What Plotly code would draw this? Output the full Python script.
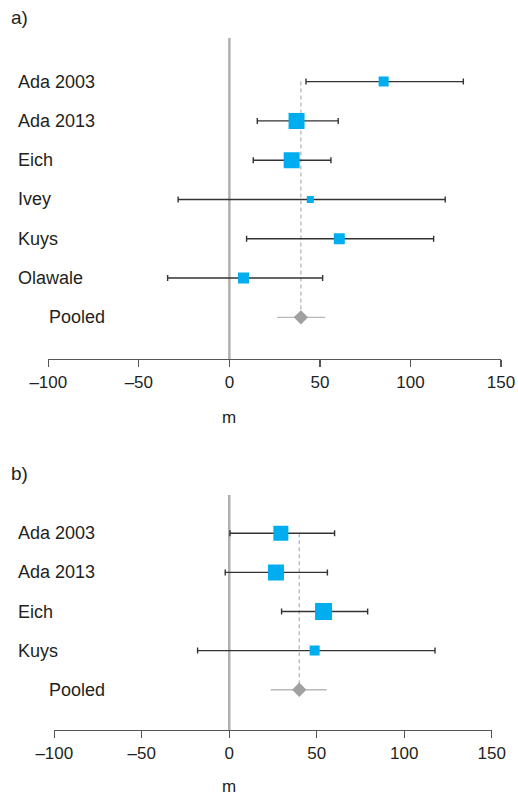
import plotly.graph_objects as go

W, H = 518, 798

# ---- data, panel a ----
a_studies = ["Ada 2003", "Ada 2013", "Eich", "Ivey", "Kuys", "Olawale"]
a_est = [85.2, 37.1, 34.4, 44.7, 60.7, 7.8]
a_low = [42.3, 15.4, 13.2, -28.3, 9.5, -34.1]
a_high = [129.2, 60.1, 56.1, 119.2, 112.8, 51.5]
a_weight = [10, 16, 16, 7, 11, 11]
a_pooled = 39.5
a_pooled_low = 26.4
a_pooled_high = 52.9

# ---- data, panel b ----
b_studies = ["Ada 2003", "Ada 2013", "Eich", "Kuys"]
b_est = [29.5, 26.7, 53.9, 48.8]
b_low = [0.4, -2.3, 29.9, -18.1]
b_high = [60.2, 56.1, 79.1, 117.6]
b_weight = [15, 16, 17, 10]
b_pooled = 40.0
b_pooled_low = 23.6
b_pooled_high = 55.6

tick_vals = [-100, -50, 0, 50, 100, 150]
tick_text = ["\u2013100", "\u201350", "0", "50", "100", "150"]
x_title = "m"
pooled_label = "Pooled"

BLUE = "#00AEEF"
TEXT = "#231f20"
AXIS = "#555555"
FONT = "Liberation Sans, Arial, sans-serif"


def px(x):
    return x / W


def py(y):
    return 1 - y / H


fig = go.Figure()


def add_panel(xa, ya, studies, est, low, high, weight, pooled, plow, phigh):
    n = len(studies)
    ys = list(range(n))
    fig.add_trace(go.Scatter(
        x=est, y=ys, mode="markers", xaxis=xa, yaxis=ya,
        marker=dict(symbol="square", size=weight, color=BLUE, opacity=1,
                    line=dict(width=0)),
        error_x=dict(type="data", symmetric=False,
                     array=[h - e for h, e in zip(high, est)],
                     arrayminus=[e - l for e, l in zip(est, low)],
                     color="#333333", thickness=1.4, width=3),
        showlegend=False, hoverinfo="skip"))
    fig.add_trace(go.Scatter(
        x=[pooled], y=[n], mode="markers", xaxis=xa, yaxis=ya,
        marker=dict(symbol="diamond", size=11, color="#a0a0a0", line=dict(width=0)),
        error_x=dict(type="data", symmetric=False,
                     array=[phigh - pooled], arrayminus=[pooled - plow],
                     color="#b8b8b8", thickness=1.4, width=0),
        showlegend=False, hoverinfo="skip"))
    return n


na = add_panel("x", "y", a_studies, a_est, a_low, a_high, a_weight,
               a_pooled, a_pooled_low, a_pooled_high)
nb = add_panel("x2", "y2", b_studies, b_est, b_low, b_high, b_weight,
               b_pooled, b_pooled_low, b_pooled_high)

axis_common = dict(
    range=[-100, 150], tickmode="array", tickvals=tick_vals, ticktext=tick_text,
    showline=True, linecolor=AXIS, linewidth=1.2, ticks="outside", ticklen=7,
    tickcolor=AXIS, tickwidth=1.2, showgrid=False, zeroline=False, automargin=False,
    tickfont=dict(family=FONT, size=17, color=TEXT), fixedrange=True)

fig.update_layout(
    template="none",
    width=W, height=H, margin=dict(l=0, r=0, t=0, b=0, pad=0, autoexpand=False),
    paper_bgcolor="white", plot_bgcolor="white",
    xaxis=dict(domain=[px(48.3), px(501)], anchor="y", **axis_common),
    yaxis=dict(domain=[py(359), py(38)], range=[7.06, -1.11],
               visible=False, fixedrange=True, automargin=False),
    xaxis2=dict(domain=[px(54.3), px(491.7)], anchor="y2", **axis_common),
    yaxis2=dict(domain=[py(730), py(495)], range=[5.03, -0.98],
                visible=False, fixedrange=True, automargin=False),
)

# reference lines
for xa, ya, top, bottom, pooled, n in [("x", "y", -1.11, 7.06, a_pooled, na),
                                       ("x2", "y2", -0.98, 5.03, b_pooled, nb)]:
    fig.add_shape(type="line", xref=xa, yref=ya, x0=0, x1=0, y0=top, y1=bottom,
                  line=dict(color="#b0b0b0", width=2.5), layer="below")
    fig.add_shape(type="line", xref=xa, yref=ya, x0=pooled, x1=pooled, y0=0, y1=n,
                  line=dict(color="#b0b0b0", width=1.2, dash="4px,3px"), layer="below")

# study labels
for ya, studies in [("y", a_studies), ("y2", b_studies)]:
    for i, s in enumerate(studies):
        fig.add_annotation(text=s, xref="paper", yref=ya, x=px(16), y=i,
                           xanchor="left", yanchor="middle", showarrow=False,
                           font=dict(family=FONT, size=18, color=TEXT))
    fig.add_annotation(text=pooled_label, xref="paper", yref=ya, x=px(47), y=len(studies),
                       xanchor="left", yanchor="middle", showarrow=False,
                       font=dict(family=FONT, size=18, color=TEXT))

# axis titles and panel tags
fig.add_annotation(text=x_title, xref="x", yref="paper", x=0, y=py(429),
                   xanchor="center", yanchor="bottom", showarrow=False,
                   font=dict(family=FONT, size=17, color=TEXT))
fig.add_annotation(text=x_title, xref="x2", yref="paper", x=0, y=py(798),
                   xanchor="center", yanchor="bottom", showarrow=False,
                   font=dict(family=FONT, size=17, color=TEXT))
fig.add_annotation(text="a)", xref="paper", yref="paper", x=px(9), y=py(18),
                   xanchor="left", yanchor="middle", showarrow=False,
                   font=dict(family=FONT, size=19, color=TEXT))
fig.add_annotation(text="b)", xref="paper", yref="paper", x=px(9), y=py(473),
                   xanchor="left", yanchor="middle", showarrow=False,
                   font=dict(family=FONT, size=19, color=TEXT))

fig.write_html(
    "out.html",
    config={"displayModeBar": False, "staticPlot": True},
    post_script="document.body.style.margin='0';document.body.style.overflow='hidden';",
)
